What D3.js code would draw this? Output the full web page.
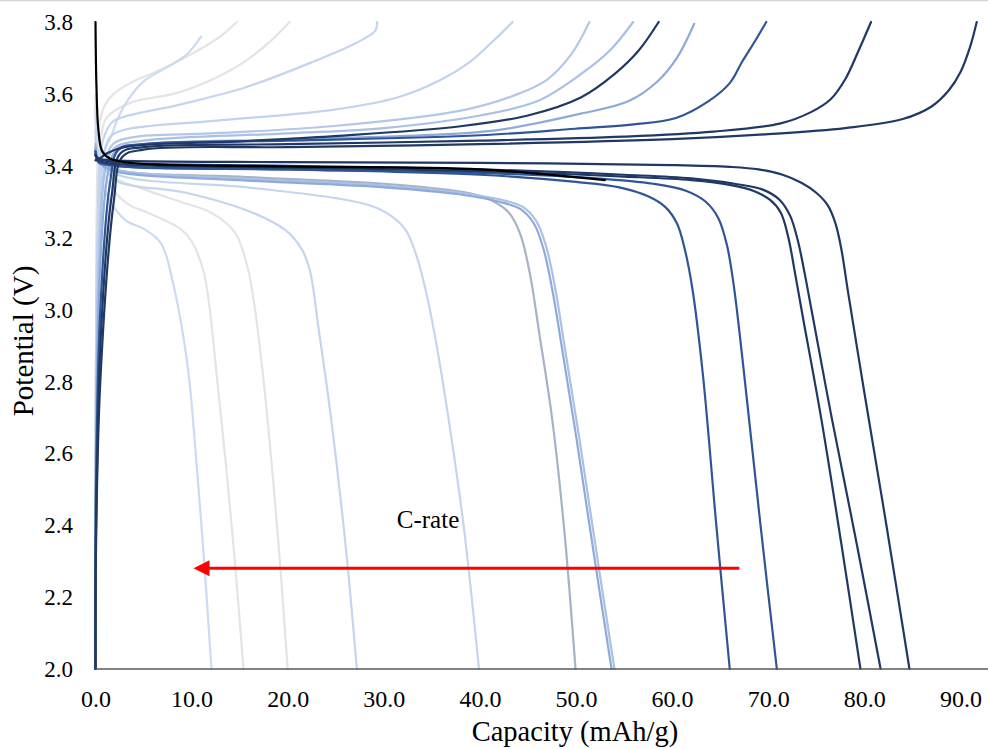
<!DOCTYPE html>
<html><head><meta charset="utf-8">
<script src="https://cdn.jsdelivr.net/npm/d3@7"></script>
<style>
body{margin:0;background:#fff;}
svg text, svg .tick text{font-family:"Liberation Serif","Times New Roman",serif !important;fill:#000;}
</style>
</head><body>
<svg id="chart" width="988" height="749"></svg>
<script>
// ---------- data ----------
const xTicks = [0,10,20,30,40,50,60,70,80,90];
const yTicks = [2.0,2.2,2.4,2.6,2.8,3.0,3.2,3.4,3.6,3.8];
const xTitle = "Capacity (mAh/g)";
const yTitle = "Potential (V)";
const arrowLabel = "C-rate";
const arrowFromTo = [67.0, 10.2];   // capacity
const arrowLevel = 2.28;             // potential

// charge curves [capacity, potential]
const charge01 = [[0,2.0],[0.03,2.6],[0.15,3.1],[0.45,3.35],[0.9,3.44],[1.6,3.48],[2.3,3.53],[3.3,3.58],[5.0,3.635],[7.5,3.675],[9.5,3.71],[11.0,3.76]];
const charge02 = [[0,2.0],[0.02,2.7],[0.1,3.2],[0.25,3.45],[0.5,3.53],[1.0,3.57],[1.9,3.60],[3.6,3.63],[7.0,3.67],[10.6,3.72],[13,3.76],[14.7,3.8]];
const charge03 = [[0,2.0],[0.02,2.7],[0.12,3.2],[0.35,3.44],[0.7,3.5],[1.2,3.535],[3.6,3.575],[8.8,3.605],[14,3.665],[17.5,3.73],[20.2,3.8]];
const charge04 = [[0,2.0],[0.03,2.7],[0.2,3.2],[0.6,3.45],[1.2,3.5],[1.9,3.525],[8.8,3.57],[15.8,3.62],[22.7,3.69],[27.0,3.74],[29.1,3.775],[29.3,3.8]];
const charge05 = [[0,2.0],[0.05,2.7],[0.3,3.2],[0.8,3.42],[1.5,3.48],[3,3.5],[12.3,3.525],[24.5,3.555],[31.4,3.59],[36,3.64],[39,3.69],[41.5,3.75],[43.4,3.8]];
const charge06 = [[0,2.0],[0.05,2.6],[0.35,3.15],[1.0,3.4],[1.8,3.46],[4,3.48],[12,3.49],[24.5,3.51],[38.3,3.555],[44,3.60],[47,3.64],[49.5,3.71],[51.4,3.8]];
const charge07 = [[0,2.0],[0.05,2.6],[0.4,3.15],[1.1,3.4],[2,3.45],[5,3.47],[20,3.49],[30,3.505],[40,3.54],[46,3.58],[50.5,3.655],[53.5,3.72],[55.95,3.8]];
const charge08 = [[0,3.415],[0.4,3.42],[1.2,3.435],[3,3.452],[15,3.468],[24.5,3.482],[38,3.51],[45,3.54],[50.5,3.59],[54,3.655],[56.5,3.72],[58.6,3.8]];
const charge09 = [[0,2.0],[0.05,2.6],[0.45,3.1],[1.3,3.38],[2.2,3.445],[5,3.46],[20,3.473],[35,3.486],[42,3.5],[50.5,3.545],[55.5,3.58],[58.5,3.635],[60.5,3.7],[62.3,3.795]];
const charge10 = [[0,2.0],[0.05,2.5],[0.5,3.0],[1.5,3.35],[2.4,3.445],[5,3.46],[20,3.47],[40,3.485],[49.9,3.503],[56,3.515],[60.4,3.533],[63.8,3.58],[66,3.63],[67.3,3.69],[68.7,3.75],[69.8,3.8]];
const charge11 = [[0,2.0],[0.06,2.4],[0.6,2.95],[1.7,3.32],[2.6,3.435],[5,3.452],[20,3.46],[40,3.47],[55,3.481],[64.3,3.495],[71.3,3.518],[74.5,3.55],[76.5,3.585],[78,3.64],[79.4,3.72],[80.7,3.8]];
const charge12 = [[0,2.0],[0.06,2.35],[0.5,2.8],[1.9,3.3],[2.8,3.425],[5,3.445],[20,3.452],[40,3.46],[60,3.474],[70,3.488],[78,3.505],[84,3.53],[87,3.565],[88.8,3.61],[90,3.66],[91,3.73],[91.7,3.8]];

// discharge curves [capacity, potential]
const discharge01 = [[0,3.56],[0.1,3.47],[0.4,3.4],[1.0,3.33],[1.9,3.285],[3.3,3.245],[5.0,3.225],[6.8,3.185],[8.1,3.07],[9.6,2.84],[10.4,2.61],[11.3,2.3],[12.07,2.0]];
const discharge02 = [[0,3.6],[0.1,3.5],[0.4,3.42],[1.0,3.37],[1.9,3.33],[3.6,3.29],[5.4,3.27],[8.8,3.225],[10,3.19],[11.2,3.11],[11.8,3.02],[12.6,2.82],[13.6,2.56],[14.5,2.3],[15.4,2.0]];
const discharge03 = [[0,3.58],[0.1,3.49],[0.5,3.42],[1.8,3.37],[5,3.335],[8.8,3.30],[12,3.27],[14.5,3.215],[15.8,3.12],[16.6,3.0],[17.5,2.8],[18.5,2.52],[19.3,2.26],[20.0,2.0]];
const discharge04 = [[0,3.5],[0.2,3.44],[1,3.39],[2.4,3.355],[9.4,3.325],[16.3,3.27],[19.8,3.22],[21.5,3.166],[22.3,3.11],[23.2,2.95],[24.5,2.7],[26,2.35],[27.2,2.0]];
const discharge05 = [[0,3.48],[0.3,3.43],[1.9,3.38],[15.8,3.34],[25,3.31],[28.5,3.29],[30.8,3.26],[32.3,3.22],[33.4,3.15],[34.3,3.06],[35.3,2.93],[36.6,2.72],[38.3,2.4],[39.9,2.0]];
const discharge06 = [[0,3.46],[0.3,3.42],[2,3.39],[15,3.37],[30,3.35],[36,3.335],[39.5,3.32],[41.5,3.30],[43,3.27],[44.2,3.21],[45.2,3.1],[46.2,2.93],[47.5,2.7],[48.8,2.38],[49.95,2.0]];
const discharge07 = [[0,3.45],[0.3,3.41],[2,3.385],[15,3.36],[30,3.34],[38,3.32],[42,3.30],[44.2,3.28],[45.6,3.24],[46.6,3.17],[47.5,3.06],[48.5,2.9],[50,2.65],[51.8,2.33],[53.7,2.0]];
const discharge08 = [[0,3.45],[0.3,3.415],[2,3.39],[15,3.365],[30,3.345],[38,3.325],[42.3,3.305],[44.5,3.285],[45.9,3.245],[46.9,3.175],[47.8,3.065],[48.8,2.9],[50.3,2.65],[52.1,2.33],[54.0,2.0]];
const discharge09 = [[0,3.44],[0.3,3.41],[2,3.40],[20,3.39],[40,3.375],[50,3.355],[54.5,3.34],[57.5,3.315],[59.3,3.285],[60.5,3.24],[61.3,3.17],[62.1,3.06],[63.2,2.82],[64.6,2.4],[66.0,2.0]];
const discharge10 = [[0,3.44],[0.3,3.415],[2,3.40],[20,3.39],[40,3.38],[52,3.365],[58,3.35],[61.5,3.33],[63.5,3.3],[64.8,3.255],[65.7,3.18],[66.4,3.07],[67.5,2.82],[69.2,2.4],[70.9,2.0]];
const discharge11 = [[0,3.43],[0.3,3.415],[2,3.405],[20,3.395],[40,3.385],[55,3.37],[62,3.36],[66,3.347],[68.5,3.33],[70.2,3.305],[71.3,3.27],[72.1,3.2],[72.8,3.1],[73.6,2.98],[75.5,2.7],[77.6,2.35],[79.6,2.0]];
const discharge12 = [[0,3.43],[0.3,3.42],[2,3.41],[20,3.40],[40,3.39],[55,3.375],[62,3.365],[66.5,3.35],[69.5,3.333],[71.2,3.305],[72.3,3.26],[73.1,3.19],[73.8,3.1],[74.5,3.0],[76.6,2.7],[79.2,2.35],[81.7,2.0]];
const discharge13 = [[0,3.43],[0.3,3.42],[2,3.415],[20,3.41],[40,3.408],[60,3.402],[66,3.397],[69,3.39],[71.5,3.375],[73.5,3.352],[75,3.325],[76.2,3.29],[77,3.24],[77.6,3.17],[78.3,3.05],[80,2.77],[82.3,2.4],[84.7,2.0]];
const dischargeFirst = [[0,3.8],[0.1,3.62],[0.3,3.5],[0.7,3.44],[1.5,3.42],[4,3.407],[20,3.398],[40,3.39],[53,3.36]];

// drawing order (back to front)
const seriesOrder = [
  discharge02, discharge03, charge02, charge03,
  discharge01, charge01, discharge04, charge04, discharge05, charge05,
  charge06, discharge06, discharge08, charge07, discharge07, charge09,
  discharge09, discharge10, charge10, charge08,
  discharge11, discharge12, discharge13, charge11, charge12, dischargeFirst
];
const seriesColors = [
  "#e4e4e4", "#e4e4e4", "#e4e4e4", "#e4e4e4",
  "#cbdbf3", "#cbdbf3", "#c5d5ee", "#c5d5ee", "#c5d5ee", "#c2d3ee",
  "#b4c7e7", "#a6b3c6", "#aac0e5", "#aac0e5", "#8eaadb", "#8eaadb",
  "#2f5597", "#2f5597", "#2f5597", "#1f3864",
  "#203864", "#203864", "#203864", "#203864", "#203864", "#000000"
];

// ---------- chart ----------
const FONT = "'Liberation Serif','Times New Roman',serif";
const svg = d3.select("#chart");
const W = 988, H = 749;
const x = d3.scaleLinear().domain([0, 93]).range([95.5, 95.5 + 93 * 9.61]);
const y = d3.scaleLinear().domain([2.0, 3.8]).range([669, 22]);

// top border line
svg.append("line").attr("x1", 0).attr("x2", W).attr("y1", 0.5).attr("y2", 0.5)
  .attr("stroke", "#d4d4d4").attr("stroke-width", 1.5);

svg.append("defs").append("clipPath").attr("id", "plotclip")
  .append("rect").attr("x", 90).attr("y", 18).attr("width", W - 90).attr("height", 652);

const line = d3.line().x(d => x(d[0])).y(d => y(d[1])).curve(d3.curveCatmullRom.alpha(0.5));

const g = svg.append("g").attr("clip-path", "url(#plotclip)");
seriesOrder.forEach((s, i) => {
  g.append("path").attr("d", line(s)).attr("fill", "none")
    .attr("stroke", seriesColors[i]).attr("stroke-width", 2.2)
    .attr("stroke-linejoin", "round").attr("stroke-linecap", "round");
});

// x axis
const xAxis = d3.axisBottom(x).tickValues(xTicks).tickSize(0).tickPadding(0)
  .tickFormat(d3.format(".1f"));
const xg = svg.append("g").attr("transform", `translate(0,${y(2.0)})`).call(xAxis)
  .attr("font-family", null).attr("font-size", null);
xg.select(".domain").attr("stroke", "#595959").attr("stroke-width", 1.6)
  .attr("d", `M${x(0)},0H${W}`);
xg.selectAll("text").attr("dy", null).attr("y", 38)
  .style("font-family", FONT).style("font-size", "24px").attr("fill", "#000");

// y axis (labels only)
const yAxis = d3.axisLeft(y).tickValues(yTicks).tickSize(0).tickPadding(0)
  .tickFormat(d3.format(".1f"));
const yg = svg.append("g").attr("transform", `translate(73,0)`).call(yAxis)
  .attr("font-family", null).attr("font-size", null);
yg.select(".domain").remove();
yg.selectAll("text").attr("dy", "0.33em")
  .style("font-family", FONT).style("font-size", "23px").attr("fill", "#000");

// axis titles
svg.append("text").attr("x", 575).attr("y", 741).attr("text-anchor", "middle")
  .style("font-family", FONT).style("font-size", "28.5px").text(xTitle);
svg.append("text").attr("transform", "translate(33,341) rotate(-90)")
  .attr("text-anchor", "middle").style("font-family", FONT).style("font-size", "29px").text(yTitle);

// arrow annotation
const ax1 = x(arrowFromTo[0]), ax2 = x(arrowFromTo[1]), ay = y(arrowLevel);
svg.append("line").attr("x1", ax1).attr("x2", ax2 + 14).attr("y1", ay).attr("y2", ay)
  .attr("stroke", "#ff0000").attr("stroke-width", 3);
svg.append("path").attr("d", `M${ax2},${ay}L${ax2 + 16},${ay - 8}L${ax2 + 16},${ay + 8}Z`)
  .attr("fill", "#ff0000");
svg.append("text").attr("x", 428).attr("y", 528).attr("text-anchor", "middle")
  .style("font-family", FONT).style("font-size", "25px").text(arrowLabel);
</script>
</body></html>
